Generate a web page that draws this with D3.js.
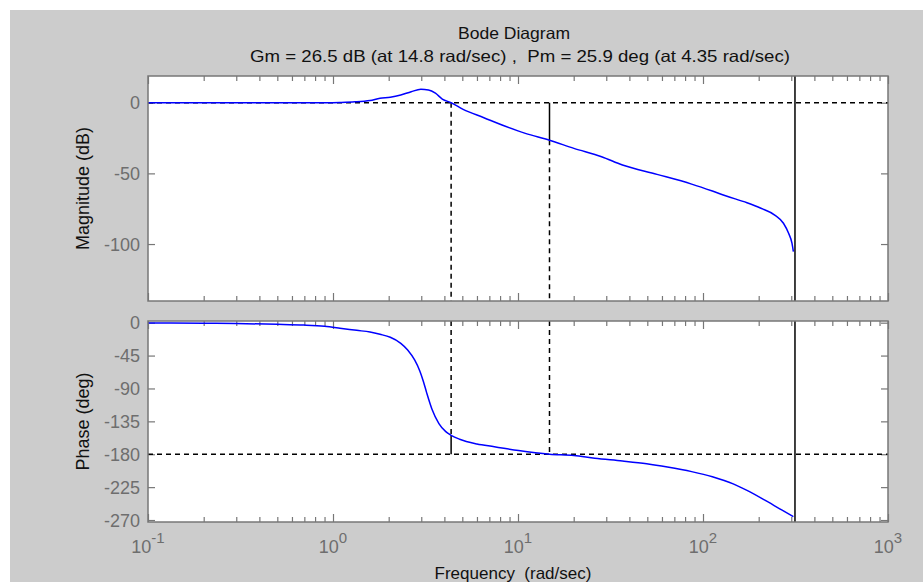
<!DOCTYPE html>
<html>
<head>
<meta charset="utf-8">
<script src="https://cdn.jsdelivr.net/npm/d3@7"></script>
<style>
  body { margin: 0; background: #fff; }
  text { font-family: "Liberation Sans", Arial, sans-serif; }
</style>
</head>
<body>
<svg id="svg"></svg>
<script>
// bode plot (frequency in rad/sec)
const magFreq = [0.1, 0.3, 0.6, 0.9, 1.09, 1.315, 1.585, 1.795, 2.04, 2.325, 2.646, 2.986, 3.28, 3.578, 3.897, 4.35, 5.05, 6.54, 8.47, 10.96, 14.8, 20.05, 28.3, 36.7, 56.4, 86.8, 112.4, 133.6, 172.9, 205.6, 244.2, 272.2, 290.2, 302.8, 308];
const magDb = [0, 0, 0, 0.05, 0.2, 0.6, 1.6, 3.1, 3.8, 5.4, 7.8, 9.5, 9.0, 6.7, 2.6, 0, -4.7, -10.6, -16.5, -21.7, -26.5, -32.3, -38.2, -44.1, -50.7, -57.6, -62.5, -66.0, -70.8, -74.7, -79.5, -85.3, -92.4, -99.5, -105.4];

const phaseFreq = [0.1, 0.2, 0.3, 0.5, 0.7, 0.9, 1.09, 1.343, 1.585, 1.795, 2.04, 2.325, 2.533, 2.762, 2.946, 3.077, 3.21, 3.424, 3.737, 4.07, 4.35, 4.834, 6.0, 7.45, 10.07, 14.8, 20.05, 26.0, 36.7, 49.6, 64.2, 86.8, 112.4, 145.6, 172.9, 214.7, 266.2, 308];
const phaseDeg = [-0.3, -0.7, -1.2, -2.2, -3.3, -5, -7.5, -10.5, -12.8, -15.9, -20, -28.2, -37.3, -51, -66, -80, -96, -118, -138, -149.1, -154.1, -159.5, -165.9, -169.6, -175, -180, -181.8, -185.5, -189.2, -193.0, -197.5, -203.8, -210.8, -220.5, -229.5, -242.5, -256.2, -265.3];

// margins
const gmDb = 26.5, gmFreq = 14.8;
const pmDeg = 25.9, pmFreq = 4.35;
const nyquistFreq = 314.16;

const magTicks = [-100, -50, 0];
const phaseTicks = [0, -45, -90, -135, -180, -225, -270];
const decadeExps = [-1, 0, 1, 2, 3];

const width = 923, height = 582;
const left = 148, right = 888;

const svg = d3.select('#svg').attr('width', width).attr('height', height);

// figure background
svg.append('rect').attr('x', 10).attr('y', 10).attr('width', width - 10).attr('height', height - 10).attr('fill', '#cccccc');

const x = d3.scaleLog().domain([0.1, 1000]).range([left, right]);
const magY = d3.scaleLinear().domain([-140.3, 18.9]).range([301, 76]);
const phaseY = d3.scaleLinear().domain([-272.7, 2.3]).range([522, 321]);

// minor ticks 2..9 in each decade
const minorTicks = [];
decadeExps.slice(0, -1).forEach(e => {
  for (let k = 2; k <= 9; k++) minorTicks.push(k * 10 ** e);
});
const majorTicks = decadeExps.map(e => 10 ** e);

const axisGray = '#777777';
const labelGray = '#6e6e6e';

function makeAxes(y, ticks, id) {
  const [bottom, top] = y.range();
  const g = svg.append('g');

  g.append('rect')
    .attr('x', left).attr('y', top)
    .attr('width', right - left).attr('height', bottom - top)
    .attr('fill', '#fff');

  g.append('clipPath').attr('id', id)
    .append('rect')
    .attr('x', left).attr('y', top)
    .attr('width', right - left).attr('height', bottom - top);

  const tickStyle = sel => {
    sel.select('.domain').remove();
    sel.selectAll('line').attr('stroke', axisGray).attr('stroke-width', 1.2);
    sel.selectAll('text').remove();
  };

  // x ticks, bottom and top, pointing inwards
  g.append('g').attr('transform', `translate(0,${bottom})`)
    .call(d3.axisBottom(x).tickValues(majorTicks).tickSizeInner(-8).tickSizeOuter(0)).call(tickStyle);
  g.append('g').attr('transform', `translate(0,${bottom})`)
    .call(d3.axisBottom(x).tickValues(minorTicks).tickSizeInner(-5).tickSizeOuter(0)).call(tickStyle);
  g.append('g').attr('transform', `translate(0,${top})`)
    .call(d3.axisTop(x).tickValues(majorTicks).tickSizeInner(-8).tickSizeOuter(0)).call(tickStyle);
  g.append('g').attr('transform', `translate(0,${top})`)
    .call(d3.axisTop(x).tickValues(minorTicks).tickSizeInner(-5).tickSizeOuter(0)).call(tickStyle);

  // y ticks, left and right
  g.append('g').attr('transform', `translate(${left},0)`)
    .call(d3.axisLeft(y).tickValues(ticks).tickSizeInner(-7).tickSizeOuter(0)).call(tickStyle);
  g.append('g').attr('transform', `translate(${right},0)`)
    .call(d3.axisRight(y).tickValues(ticks).tickSizeInner(-7).tickSizeOuter(0)).call(tickStyle);

  g.selectAll('.ylab')
    .data(ticks)
    .join('text')
    .attr('x', left - 8)
    .attr('y', d => y(d))
    .attr('dy', '0.36em')
    .attr('text-anchor', 'end')
    .attr('font-size', '18px')
    .attr('fill', labelGray)
    .text(d => d);

  return g;
}

const gMag = makeAxes(magY, magTicks, 'clipMag');
const gPhase = makeAxes(phaseY, phaseTicks, 'clipPhase');

// reference lines + margin markers
function hline(g, y, v) {
  g.append('line')
    .attr('x1', left).attr('x2', right)
    .attr('y1', y(v)).attr('y2', y(v))
    .attr('stroke', '#000').attr('stroke-width', 1.5)
    .attr('stroke-dasharray', '5,4');
}
function vline(g, y, f, v1, v2, dashed) {
  g.append('line')
    .attr('x1', x(f)).attr('x2', x(f))
    .attr('y1', y(v1)).attr('y2', y(v2))
    .attr('stroke', '#000').attr('stroke-width', 1.5)
    .attr('stroke-dasharray', dashed ? '5,4' : null);
}

const magLo = magY.domain()[0], magHi = magY.domain()[1];
const phLo = phaseY.domain()[0], phHi = phaseY.domain()[1];

hline(gMag, magY, 0);
vline(gMag, magY, pmFreq, 0, magLo, true);
vline(gMag, magY, gmFreq, -gmDb, magLo, true);
vline(gMag, magY, gmFreq, 0, -gmDb, false);
vline(gMag, magY, nyquistFreq, magLo, magHi, false);

hline(gPhase, phaseY, -180);
vline(gPhase, phaseY, pmFreq, phHi, -180 + pmDeg, true);
vline(gPhase, phaseY, pmFreq, -180 + pmDeg, -180, false);
vline(gPhase, phaseY, gmFreq, phHi, -180, true);
vline(gPhase, phaseY, nyquistFreq, phLo, phHi, false);

// response curves
const magLine = d3.line().x((d, i) => x(magFreq[i])).y(d => magY(d)).curve(d3.curveMonotoneX);
gMag.append('path')
  .attr('d', magLine(magDb))
  .attr('clip-path', 'url(#clipMag)')
  .attr('fill', 'none').attr('stroke', '#0000ff').attr('stroke-width', 1.5);

const phaseLine = d3.line().x((d, i) => x(phaseFreq[i])).y(d => phaseY(d)).curve(d3.curveMonotoneX);
gPhase.append('path')
  .attr('d', phaseLine(phaseDeg))
  .attr('clip-path', 'url(#clipPhase)')
  .attr('fill', 'none').attr('stroke', '#0000ff').attr('stroke-width', 1.5);

// axes frames on top
[magY, phaseY].forEach(y => {
  const [bottom, top] = y.range();
  svg.append('rect')
    .attr('x', left).attr('y', top)
    .attr('width', right - left).attr('height', bottom - top)
    .attr('fill', 'none').attr('stroke', axisGray).attr('stroke-width', 1.5);
});

// decade labels 10^n under the phase plot
const xl = svg.selectAll('.xlab')
  .data(decadeExps)
  .join('text')
  .attr('x', d => x(10 ** d))
  .attr('y', 553)
  .attr('text-anchor', 'middle')
  .attr('font-size', '18px')
  .attr('fill', labelGray);
xl.append('tspan').text('10');
xl.append('tspan').attr('dy', -10.5).attr('font-size', '15px').text(d => d);

// titles and axis labels
svg.append('text')
  .attr('x', 514).attr('y', 38.5)
  .attr('text-anchor', 'middle').attr('font-size', '16.5px').attr('fill', '#111')
  .attr('textLength', 112).attr('lengthAdjust', 'spacingAndGlyphs')
  .text('Bode Diagram');
svg.append('text')
  .attr('x', 520).attr('y', 62)
  .attr('text-anchor', 'middle').attr('font-size', '16.5px').attr('fill', '#111')
  .attr('textLength', 540).attr('lengthAdjust', 'spacingAndGlyphs')
  .style('white-space', 'pre')
  .text('Gm = 26.5 dB (at 14.8 rad/sec) ,  Pm = 25.9 deg (at 4.35 rad/sec)');

svg.append('text')
  .attr('transform', `translate(89,${(magY.range()[0] + magY.range()[1]) / 2}) rotate(-90)`)
  .attr('text-anchor', 'middle').attr('font-size', '18px').attr('fill', '#111')
  .text('Magnitude (dB)');
svg.append('text')
  .attr('transform', `translate(89,${(phaseY.range()[0] + phaseY.range()[1]) / 2}) rotate(-90)`)
  .attr('text-anchor', 'middle').attr('font-size', '18px').attr('fill', '#111')
  .text('Phase (deg)');

svg.append('text')
  .attr('x', 513).attr('y', 579)
  .attr('text-anchor', 'middle').attr('font-size', '17px').attr('fill', '#111')
  .style('white-space', 'pre')
  .text('Frequency  (rad/sec)');
</script>
</body>
</html>
